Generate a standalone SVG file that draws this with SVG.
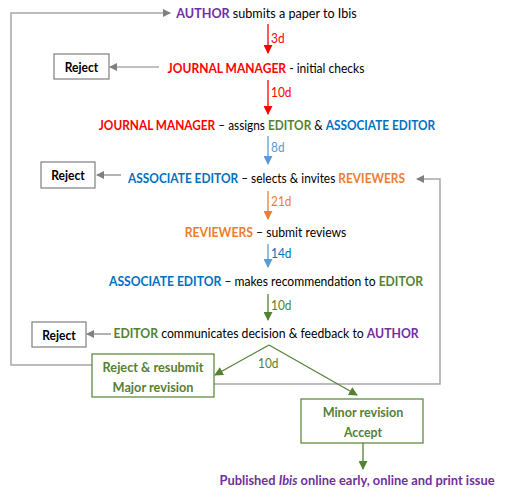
<svg xmlns="http://www.w3.org/2000/svg" width="506" height="497" viewBox="0 0 506 497">
<style>
text{font-family:Lato,"Liberation Sans",sans-serif;font-size:14px;fill:#000}
.b{font-weight:bold}
.pu{fill:#7030A0;font-weight:bold}
.re{fill:#FF0000;font-weight:bold}
.gr{fill:#548235;font-weight:bold}
.bl{fill:#0070C0;font-weight:bold}
.or{fill:#ED7D31;font-weight:bold}
.lbl{font-size:13.5px}
.gbox{fill:#fff;stroke:#548235;stroke-width:1.2}
.rbox{fill:#fff;stroke:#7F7F7F;stroke-width:1.2}
.gl{stroke:#A6A6A6;stroke-width:1.5;fill:none}
.gl2{stroke:#808080;stroke-width:1.2;fill:none}
</style>
<defs>
<marker id="aG" markerWidth="8" markerHeight="8" refX="7" refY="4" orient="auto" markerUnits="userSpaceOnUse"><path d="M0,0 L8,4 L0,8 Z" fill="#808080"/></marker>
<marker id="aR" markerWidth="9" markerHeight="9" refX="8" refY="4.5" orient="auto" markerUnits="userSpaceOnUse"><path d="M0,0 L9,4.5 L0,9 Z" fill="#FF0000"/></marker>
<marker id="aB" markerWidth="9" markerHeight="9" refX="8" refY="4.5" orient="auto" markerUnits="userSpaceOnUse"><path d="M0,0 L9,4.5 L0,9 Z" fill="#5B9BD5"/></marker>
<marker id="aO" markerWidth="9" markerHeight="9" refX="8" refY="4.5" orient="auto" markerUnits="userSpaceOnUse"><path d="M0,0 L9,4.5 L0,9 Z" fill="#ED7D31"/></marker>
<marker id="aN" markerWidth="9" markerHeight="9" refX="8" refY="4.5" orient="auto" markerUnits="userSpaceOnUse"><path d="M0,0 L9,4.5 L0,9 Z" fill="#548235"/></marker>
</defs>

<g id="connectors">
<polyline class="gl" points="93,365 11,365 11,13 170,13" marker-end="url(#aG)"/>
<polyline class="gl" points="214,384 440,384 440,179 417,179" marker-end="url(#aG)"/>
<line class="gl2" x1="159" y1="67" x2="110" y2="67" marker-end="url(#aG)"/>
<line class="gl2" x1="121" y1="175" x2="97" y2="175" marker-end="url(#aG)"/>
<line class="gl2" x1="111" y1="334" x2="87" y2="334" marker-end="url(#aG)"/>
<line x1="268" y1="24" x2="268" y2="53" stroke="#FF0000" stroke-width="1.3" marker-end="url(#aR)"/>
<line x1="268" y1="80" x2="268" y2="114" stroke="#FF0000" stroke-width="1.3" marker-end="url(#aR)"/>
<line x1="268" y1="136" x2="268" y2="164" stroke="#5B9BD5" stroke-width="1.3" marker-end="url(#aB)"/>
<line x1="268" y1="191" x2="268" y2="219" stroke="#ED7D31" stroke-width="1.3" marker-end="url(#aO)"/>
<line x1="268" y1="244" x2="268" y2="267" stroke="#5B9BD5" stroke-width="1.3" marker-end="url(#aB)"/>
<line x1="268" y1="294" x2="268" y2="320" stroke="#548235" stroke-width="1.3" marker-end="url(#aN)"/>
<line x1="269" y1="345" x2="215" y2="375" stroke="#548235" stroke-width="1.2" marker-end="url(#aN)"/>
<line x1="269" y1="345" x2="357" y2="395" stroke="#548235" stroke-width="1.2" marker-end="url(#aN)"/>
<line x1="363" y1="443" x2="363" y2="469" stroke="#548235" stroke-width="1.3" marker-end="url(#aN)"/>
<text class="lbl" transform="translate(271,43) scale(0.88,1)" style="fill:#FF0000">3d</text>
<text class="lbl" transform="translate(271,97) scale(0.88,1)" style="fill:#FF0000">10d</text>
<text class="lbl" transform="translate(271,152) scale(0.88,1)" style="fill:#5B9BD5">8d</text>
<text class="lbl" transform="translate(271,206) scale(0.88,1)" style="fill:#ED7D31">21d</text>
<text class="lbl" transform="translate(271,258) scale(0.88,1)" style="fill:#0070C0">14d</text>
<text class="lbl" transform="translate(271,310) scale(0.88,1)" style="fill:#548235">10d</text>
<text class="lbl" transform="translate(258,368) scale(0.88,1)" style="fill:#548235">10d</text>
</g>

<g id="n-author"><text transform="translate(266.5,18) scale(0.9,1)" text-anchor="middle"><tspan class="pu">AUTHOR</tspan> submits a paper to Ibis</text></g>
<g id="n-jm1"><text transform="translate(266,73) scale(0.86,1)" text-anchor="middle"><tspan class="re">JOURNAL MANAGER</tspan> - initial checks</text></g>
<g id="n-reject1"><rect class="rbox" x="54" y="54" width="55" height="25"/><text class="b" transform="translate(81.5,71.5) scale(0.86,1)" text-anchor="middle">Reject</text></g>
<g id="n-jm2"><text transform="translate(267,130) scale(0.845,1)" text-anchor="middle"><tspan class="re">JOURNAL MANAGER</tspan> – assigns <tspan class="gr">EDITOR</tspan> &amp; <tspan class="bl">ASSOCIATE EDITOR</tspan></text></g>
<g id="n-ae1"><text transform="translate(266.5,183) scale(0.85,1)" text-anchor="middle"><tspan class="bl">ASSOCIATE EDITOR</tspan> – selects &amp; invites <tspan class="or">REVIEWERS</tspan></text></g>
<g id="n-reject2"><rect class="rbox" x="41" y="162" width="54" height="26"/><text class="b" transform="translate(68,180) scale(0.86,1)" text-anchor="middle">Reject</text></g>
<g id="n-rev"><text transform="translate(265.5,237) scale(0.87,1)" text-anchor="middle"><tspan class="or">REVIEWERS</tspan> – submit reviews</text></g>
<g id="n-ae2"><text transform="translate(266,286) scale(0.867,1)" text-anchor="middle"><tspan class="bl">ASSOCIATE EDITOR</tspan> – makes recommendation to <tspan class="gr">EDITOR</tspan></text></g>
<g id="n-ed"><text transform="translate(266,338) scale(0.874,1)" text-anchor="middle"><tspan class="gr">EDITOR</tspan> communicates decision &amp; feedback to <tspan class="pu">AUTHOR</tspan></text></g>
<g id="n-reject3"><rect class="rbox" x="32" y="322" width="54" height="25"/><text class="b" transform="translate(59,339.5) scale(0.86,1)" text-anchor="middle">Reject</text></g>
<g id="n-major"><rect class="gbox" x="92" y="354" width="122" height="43"/><text class="gr" transform="translate(153,372) scale(0.91,1)" text-anchor="middle">Reject &amp; resubmit</text><text class="gr" transform="translate(153,392) scale(0.91,1)" text-anchor="middle">Major revision</text></g>
<g id="n-minor"><rect class="gbox" x="301" y="399" width="122" height="44"/><text class="gr" transform="translate(363,417) scale(0.9,1)" text-anchor="middle">Minor revision</text><text class="gr" transform="translate(363,437) scale(0.88,1)" text-anchor="middle">Accept</text></g>
<g id="n-pub"><text class="pu" transform="translate(357,485) scale(0.92,1)" text-anchor="middle">Published <tspan font-style="italic">Ibis</tspan> online early, online and  print issue</text></g>
</svg>
